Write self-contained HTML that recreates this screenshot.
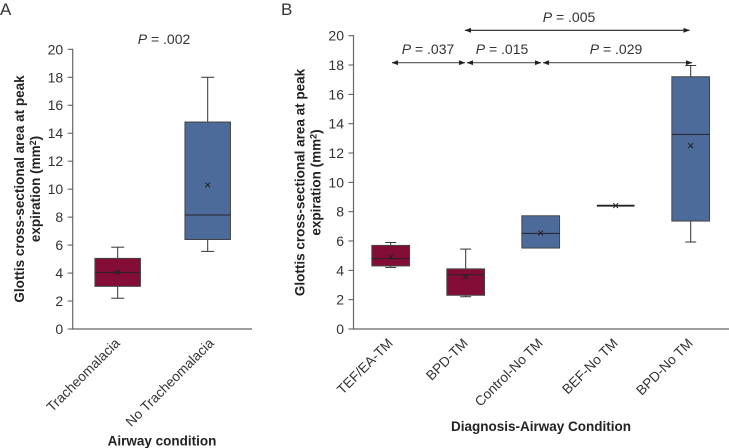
<!DOCTYPE html>
<html lang="en">
<head>
<meta charset="utf-8">
<title>Glottis cross-sectional area box plots</title>
<style>
html,body{margin:0;padding:0;background:#fff;width:729px;height:448px;overflow:hidden}
svg{display:block;font-family:"Liberation Sans",Arial,sans-serif}
text{fill:#333}
.tick{font-size:14px}
.xlabel{font-size:13.7px}
.title{font-size:13.5px;font-weight:bold;fill:#222}
.p{font-size:14px}
.panel{font-size:17px}
</style>
</head>
<body>
<svg id="chart" xmlns="http://www.w3.org/2000/svg" width="729" height="448" viewBox="0 0 729 448">
  <defs>
    <marker id="ah" viewBox="0 0 8 6" refX="7.5" refY="3" markerWidth="6.5" markerHeight="5" orient="auto-start-reverse" markerUnits="userSpaceOnUse"><path d="M0 0L8 3L0 6z" fill="#222"/></marker>
  </defs>
  <text class="panel" x="0" y="15">A</text>
  <text class="panel" x="281" y="15">B</text>

  <text class="title" transform="translate(24 189) rotate(-90)" text-anchor="middle">Glottis cross-sectional area at peak</text>
  <text class="title" transform="translate(40 189) rotate(-90)" text-anchor="middle">expiration (mm<tspan dy="-4" font-size="9">2</tspan><tspan dy="4">)</tspan></text>
  <text class="title" x="162" y="445.5" text-anchor="middle">Airway condition</text>
  <text class="p" x="164" y="44" text-anchor="middle"><tspan font-style="italic">P</tspan> = .002</text>

  <text class="title" transform="translate(304.5 182.5) rotate(-90)" text-anchor="middle">Glottis cross-sectional area at peak</text>
  <text class="title" transform="translate(320.5 182.5) rotate(-90)" text-anchor="middle">expiration (mm<tspan dy="-4" font-size="9">2</tspan><tspan dy="4">)</tspan></text>
  <text class="title" x="541" y="431" text-anchor="middle">Diagnosis-Airway Condition</text>

  <text class="p" x="428" y="54" text-anchor="middle"><tspan font-style="italic">P</tspan> = .037</text>
  <text class="p" x="502" y="54" text-anchor="middle"><tspan font-style="italic">P</tspan> = .015</text>
  <text class="p" x="616" y="54" text-anchor="middle"><tspan font-style="italic">P</tspan> = .029</text>
  <text class="p" x="569" y="22" text-anchor="middle"><tspan font-style="italic">P</tspan> = .005</text>

  <g id="plots"></g>

  <g stroke="#555" stroke-width="1.1" fill="none">
    <line x1="392" y1="62.7" x2="465" y2="62.7" marker-start="url(#ah)" marker-end="url(#ah)"/>
    <line x1="467" y1="62.7" x2="541" y2="62.7" marker-start="url(#ah)" marker-end="url(#ah)"/>
    <line x1="543" y1="62.7" x2="692" y2="62.7" marker-start="url(#ah)" marker-end="url(#ah)"/>
    <line x1="465" y1="30.3" x2="689.5" y2="30.3" stroke="#222" marker-start="url(#ah)" marker-end="url(#ah)"/>
  </g>
</svg>
<script>
// Shared y-axis ticks
var yTicks = [0, 2, 4, 6, 8, 10, 12, 14, 16, 18, 20];

// Panel A data
var aCategories = ['Tracheomalacia', 'No Tracheomalacia'];
var aLow = [2.2, 5.55];
var aQ1 = [3.05, 6.4];
var aMedian = [4.05, 8.15];
var aQ3 = [5.05, 14.8];
var aHigh = [5.85, 18];
var aMean = [4.05, 10.3];
var aGroup = ['tm', 'no'];

// Panel B data
var bCategories = ['TEF/EA-TM', 'BPD-TM', 'Control-No TM', 'BEF-No TM', 'BPD-No TM'];
var bLow = [4.2, 2.2, 5.52, 8.41, 5.93];
var bQ1 = [4.3, 2.3, 5.52, 8.41, 7.36];
var bMedian = [4.8, 3.7, 6.52, 8.41, 13.27];
var bQ3 = [5.7, 4.1, 7.72, 8.41, 17.2];
var bHigh = [5.9, 5.45, 7.72, 8.41, 17.97];
var bMean = [4.9, 3.55, 6.55, 8.41, 12.5];
var bGroup = ['tm', 'tm', 'no', 'no', 'no'];

var fills = {tm: '#840d38', no: '#4d6b9a'};
var svgNS = 'http://www.w3.org/2000/svg';
var root = document.getElementById('plots');

function make(tag, attrs, parent) {
  var el = document.createElementNS(svgNS, tag);
  for (var k in attrs) el.setAttribute(k, attrs[k]);
  parent.appendChild(el);
  return el;
}

function drawPanel(cfg) {
  var scaleY = function (v) { return cfg.y0 - (v / 20) * (cfg.y0 - cfg.y20); };
  var scaleX = function (i) { return cfg.x0 + cfg.step * i; };

  var g = make('g', {}, root);
  
  

  var yAxis = make('line', {x1: cfg.axisX, x2: cfg.axisX, y1: scaleY(20) - 0.5, y2: cfg.y0 + 0.6, stroke: '#666', 'stroke-width': 1.2}, g);
  
  

  var xAxis = make('line', {x1: cfg.axisX, x2: cfg.axisEnd, y1: cfg.y0, y2: cfg.y0, stroke: '#666', 'stroke-width': 1.2}, g);
  
  

  yTicks.forEach(function (t) {
    var y = scaleY(t);
    var tick = make('line', {x1: cfg.axisX - 5, x2: cfg.axisX, y1: y, y2: y, stroke: '#555', 'stroke-width': 1}, g);
    
    

    var label = make('text', {'class': 'tick', x: cfg.axisX - 9.5, y: y + 5, 'text-anchor': 'end'}, g);
    label.textContent = t;
    
    
  });

  cfg.categories.forEach(function (name, i) {
    var cx = scaleX(i);
    var hw = cfg.boxWidth / 2;
    var col = fills[cfg.group[i]];
    var box = make('g', {}, g);
    
    

    if (cfg.high[i] > cfg.q3[i]) {
      make('line', {x1: cx, x2: cx, y1: scaleY(cfg.high[i]), y2: scaleY(cfg.q3[i]), stroke: '#333', 'stroke-width': 1}, box);
      make('line', {x1: cx - cfg.cap, x2: cx + cfg.cap, y1: scaleY(cfg.high[i]), y2: scaleY(cfg.high[i]), stroke: '#333', 'stroke-width': 1}, box);
    }
    if (cfg.low[i] < cfg.q1[i]) {
      make('line', {x1: cx, x2: cx, y1: scaleY(cfg.q1[i]), y2: scaleY(cfg.low[i]), stroke: '#333', 'stroke-width': 1}, box);
      make('line', {x1: cx - cfg.cap, x2: cx + cfg.cap, y1: scaleY(cfg.low[i]), y2: scaleY(cfg.low[i]), stroke: '#333', 'stroke-width': 1}, box);
    }
    if (cfg.q3[i] > cfg.q1[i]) {
      make('rect', {x: cx - hw, y: scaleY(cfg.q3[i]), width: cfg.boxWidth, height: scaleY(cfg.q1[i]) - scaleY(cfg.q3[i]), fill: col, stroke: '#444', 'stroke-width': 1}, box);
    }
    var thick = cfg.q3[i] > cfg.q1[i] ? 1 : 1.9;
    make('line', {x1: cx - hw, x2: cx + hw, y1: scaleY(cfg.median[i]), y2: scaleY(cfg.median[i]), stroke: '#26222a', 'stroke-width': thick}, box);

    var my = scaleY(cfg.mean[i]);
    make('path', {d: 'M' + (cx - 2.4) + ' ' + (my - 2.4) + 'L' + (cx + 2.4) + ' ' + (my + 2.4) + 'M' + (cx + 2.4) + ' ' + (my - 2.4) + 'L' + (cx - 2.4) + ' ' + (my + 2.4), stroke: '#222', 'stroke-width': 1, fill: 'none'}, box);

    var lx = cfg.x0 + cfg.labelStep * i + cfg.labelDx;
    var ly = cfg.y0 + cfg.labelDy;
    var label = make('text', {'class': 'xlabel', x: lx, y: ly, 'text-anchor': 'end', transform: 'rotate(-45 ' + lx + ' ' + ly + ')'}, g);
    label.textContent = name;
    
    
  });
}

drawPanel({
  id: 'panel-a', categories: aCategories, low: aLow, q1: aQ1, median: aMedian, q3: aQ3, high: aHigh, mean: aMean, group: aGroup,
  y0: 329, y20: 49.3, axisX: 72.7, axisEnd: 252, x0: 117.7, step: 90, labelStep: 94, boxWidth: 45.5, cap: 6.5, labelDx: 3, labelDy: 15
});

drawPanel({
  id: 'panel-b', categories: bCategories, low: bLow, q1: bQ1, median: bMedian, q3: bQ3, high: bHigh, mean: bMean, group: bGroup,
  y0: 329, y20: 35.7, axisX: 353.5, axisEnd: 729, x0: 390.7, step: 75, labelStep: 75, boxWidth: 37.7, cap: 5.5, labelDx: 3, labelDy: 15
});
</script>
</body>
</html>
